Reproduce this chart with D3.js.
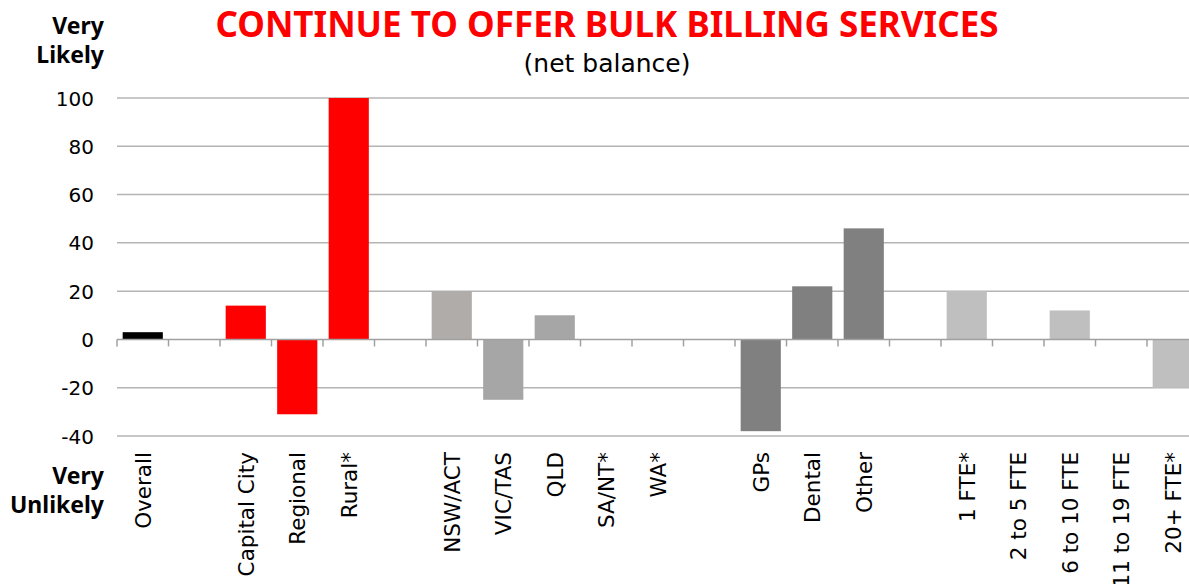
<!DOCTYPE html>
<html>
<head>
<meta charset="utf-8">
<script src="https://cdn.jsdelivr.net/npm/d3@7"></script>
<style>
  body { margin: 0; background: #fff; }
  text { font-family: "DejaVu Sans", sans-serif; }
  text.noto { font-family: "Noto Sans", sans-serif; }
</style>
</head>
<body>
<div id="container"></div>
<script>
// slots, blank ones keep the gaps between groups
let categories = ["Overall", "", "Capital City", "Regional", "Rural*", " ",
  "NSW/ACT", "VIC/TAS", "QLD", "SA/NT*", "WA*", "  ",
  "GPs", "Dental", "Other", "   ",
  "1 FTE*", "2 to 5 FTE", "6 to 10 FTE", "11 to 19 FTE", "20+ FTE*"];
let values = [3, null, 14, -31, 100, null,
  20, -25, 10, 0, 0, null,
  -38, 22, 46, null,
  20, 0, 12, 0, -20];
let colours = ["#000000", null, "#ff0000", "#ff0000", "#ff0000", null,
  "#b0acaa", "#a6a6a6", "#a6a6a6", "#a6a6a6", "#a6a6a6", null,
  "#808080", "#808080", "#808080", null,
  "#bfbfbf", "#bfbfbf", "#bfbfbf", "#bfbfbf", "#bfbfbf"];
let yTicks = [100, 80, 60, 40, 20, 0, -20, -40];

let w = 1189, h = 584;

let viz = d3.select("#container")
  .append("svg")
    .attr("width", w)
    .attr("height", h)
;

let x = d3.scaleBand()
  .domain(categories)
  .range([117, 117 + 51.5 * categories.length])
  .paddingInner(0.22)
  .paddingOuter(0.11)
;

let y = d3.scaleLinear()
  .domain([-40, 100])
  .range([436, 98])
;

// gridlines
viz.append("g").selectAll("line").data(yTicks.filter(d => d != 0)).enter()
  .append("line")
    .attr("x1", 117)
    .attr("x2", w)
    .attr("y1", d => y(d))
    .attr("y2", d => y(d))
    .attr("stroke", "#b4b4b4")
    .attr("stroke-width", 1.5)
;

// y labels
viz.append("g").selectAll("text").data(yTicks).enter()
  .append("text")
    .text(d => d)
    .attr("x", 94)
    .attr("y", d => y(d) + 7.5)
    .attr("text-anchor", "end")
    .attr("font-size", 20)
    .attr("fill", "#000")
;

// bars
let bars = categories.map((c, i) => ({c: c, v: values[i], col: colours[i]})).filter(d => d.v != null);
viz.append("g").selectAll("rect").data(bars).enter()
  .append("rect")
    .attr("x", d => x(d.c))
    .attr("width", x.bandwidth())
    .attr("y", d => y(Math.max(0, d.v)))
    .attr("height", d => Math.abs(y(d.v) - y(0)))
    .attr("fill", d => d.col)
;

// x axis line + ticks between slots
let step = x.step();
viz.append("line")
  .attr("x1", 117).attr("x2", w)
  .attr("y1", y(0)).attr("y2", y(0))
  .attr("stroke", "#a0a0a0")
  .attr("stroke-width", 1.5)
;
viz.append("g").selectAll("line").data(d3.range(categories.length + 1)).enter()
  .append("line")
    .attr("x1", d => 117 + d * step)
    .attr("x2", d => 117 + d * step)
    .attr("y1", y(0))
    .attr("y2", y(0) + 7)
    .attr("stroke", "#a0a0a0")
    .attr("stroke-width", 1.5)
;

// category labels, rotated
viz.append("g").selectAll("text").data(categories.filter(c => c.trim() != "")).enter()
  .append("text")
    .text(d => d)
    .attr("transform", d => "translate(" + (x(d) + x.bandwidth() / 2 + 8) + ",452) rotate(-90)")
    .attr("text-anchor", "end")
    .attr("font-size", 21.5)
    .attr("fill", "#000")
;

// Very Likely / Very Unlikely
let side = [["Very", 34], ["Likely", 63], ["Very", 484], ["Unlikely", 513]];
viz.append("g").selectAll("text").data(side).enter()
  .append("text")
    .attr("class", "noto")
    .text(d => d[0])
    .attr("x", 104)
    .attr("y", d => d[1])
    .attr("text-anchor", "end")
    .attr("font-size", 23)
    .attr("font-weight", "bold")
    .attr("fill", "#000")
;

// title
viz.append("text")
  .attr("class", "noto")
  .text("CONTINUE TO OFFER BULK BILLING SERVICES")
  .attr("x", 607)
  .attr("y", 37)
  .attr("text-anchor", "middle")
  .attr("font-size", 35)
  .attr("font-weight", "bold")
  .attr("fill", "#ff0000")
;
viz.append("text")
  .text("(net balance)")
  .attr("x", 607)
  .attr("y", 72)
  .attr("text-anchor", "middle")
  .attr("font-size", 25)
  .attr("fill", "#000")
;
</script>
</body>
</html>
